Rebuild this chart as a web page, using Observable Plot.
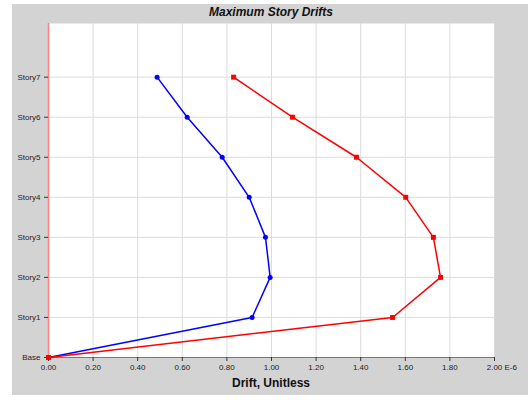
<!DOCTYPE html>
<html><head><meta charset="utf-8">
<script src="https://cdn.jsdelivr.net/npm/d3@7"></script>
<script src="https://cdn.jsdelivr.net/npm/@observablehq/plot@0.6"></script>
<style>
body{margin:0;background:#fff;font-family:"Liberation Sans",Arial,sans-serif;}
#wrap{position:relative;width:528px;height:400px;overflow:hidden;}
#bg{position:absolute;left:12px;top:4px;width:516px;height:391px;background:#d3d3d3;}
#chart{position:absolute;left:0;top:0;}
#title{position:absolute;left:48px;width:446px;top:4px;text-align:center;font:bold italic 12px "Liberation Sans",Arial,sans-serif;line-height:16px;color:#111;}
#xlabel{position:absolute;left:48px;width:446px;top:376px;text-align:center;font:bold 12px "Liberation Sans",Arial,sans-serif;line-height:14px;color:#111;}
</style></head><body>
<div id="wrap"><div id="bg"></div><div id="chart"></div><div id="title"></div><div id="xlabel"></div></div>
<script>
const titleText = "Maximum Story Drifts";
const xLabelText = "Drift, Unitless";
const xUnit = "E-6";
const stories = ["Base","Story1","Story2","Story3","Story4","Story5","Story6","Story7"];
const driftBlue = [0, 0.913, 0.994, 0.973, 0.900, 0.779, 0.622, 0.487];
const driftRed  = [0, 1.543, 1.758, 1.726, 1.602, 1.381, 1.094, 0.830];
const xTicks = [0, 0.2, 0.4, 0.6, 0.8, 1.0, 1.2, 1.4, 1.6, 1.8, 2.0];

document.getElementById("title").textContent = titleText;
document.getElementById("xlabel").textContent = xLabelText;

const idx = stories.map((_, i) => i);
const rows = vals => vals.map((v, i) => ({story: i, name: stories[i], drift: v}));
const blue = rows(driftBlue), red = rows(driftRed);

const plot = Plot.plot({
  width: 528, height: 400,
  marginLeft: 48, marginRight: 34, marginTop: 23, marginBottom: 43,
  style: {background: "transparent", fontFamily: "'Liberation Sans', Arial, sans-serif", fontSize: "8px", color: "#222"},
  x: {domain: [0, 2]},
  y: {domain: [0, 8.34]},
  marks: [
    Plot.frame({fill: "white", stroke: null}),
    Plot.gridX(xTicks, {stroke: "#dcdcdc", strokeOpacity: 1}),
    Plot.gridY(idx, {stroke: "#dcdcdc", strokeOpacity: 1}),
    Plot.ruleX([0], {stroke: "#ff8080", strokeWidth: 1.5}),
    Plot.ruleY([0], {stroke: "#ff4040", strokeWidth: 1}),
    Plot.axisX(xTicks, {tickSize: 4, tickPadding: 3, label: null, tickFormat: d3.format(".2f"), stroke: "#333"}),
    Plot.axisY(idx, {tickSize: 4, tickPadding: 4, label: null, tickFormat: i => stories[i], stroke: "#333"}),
    Plot.text([xUnit], {x: () => 2, y: () => 0, text: d => d, textAnchor: "start", lineAnchor: "top", dx: 10, dy: 7, fill: "#222"}),
    Plot.line(blue, {x: "drift", y: "story", stroke: "#0000ff", strokeWidth: 1.5}),
    Plot.dot(blue, {x: "drift", y: "story", fill: "#0000ff", r: 2.5}),
    Plot.line(red, {x: "drift", y: "story", stroke: "#ff0000", strokeWidth: 1.5}),
    Plot.dot(red, {x: "drift", y: "story", fill: "#ff0000", symbol: "square", r: 2.8})
  ]
});
document.getElementById("chart").appendChild(plot);
</script>
</body></html>
